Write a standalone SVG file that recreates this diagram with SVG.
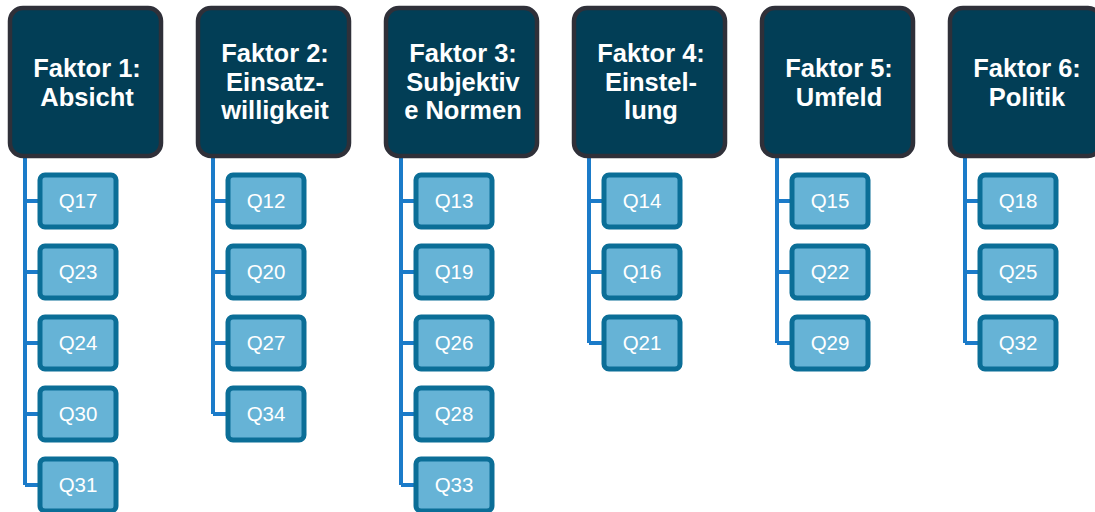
<svg xmlns="http://www.w3.org/2000/svg" width="1095" height="512" viewBox="0 0 1095 512">
<style>
.h{fill:#023e56;stroke:#2f3039;stroke-width:4.5}
.ht{font-family:"Liberation Sans",Arial,sans-serif;font-weight:bold;font-size:25.5px;fill:#ffffff;text-anchor:middle}
.q{fill:#66b3d6;stroke:#0b6e97;stroke-width:5}
.qt{font-family:"Liberation Sans",Arial,sans-serif;font-size:20.5px;fill:#ffffff;text-anchor:middle}
.c{fill:none;stroke:#1b7bc9;stroke-width:4}
</style>
<rect width="1095" height="512" fill="#ffffff"/>
<g id="connectors">
<path class="c" d="M25 158V485M25 201H38M25 272H38M25 343H38M25 414H38M25 485H38"/>
<path class="c" d="M213 158V414M213 201H226M213 272H226M213 343H226M213 414H226"/>
<path class="c" d="M401 158V485M401 201H414M401 272H414M401 343H414M401 414H414M401 485H414"/>
<path class="c" d="M589 158V343M589 201H602M589 272H602M589 343H602"/>
<path class="c" d="M777 158V343M777 201H790M777 272H790M777 343H790"/>
<path class="c" d="M965 158V343M965 201H978M965 272H978M965 343H978"/>
</g>
<g id="f1"><rect class="h" x="10" y="8" width="151" height="148" rx="13"/><text class="ht" x="87" y="77">Faktor 1:</text><text class="ht" x="87" y="106">Absicht</text></g>
<g id="f2"><rect class="h" x="198" y="8" width="151" height="148" rx="13"/><text class="ht" x="275" y="62">Faktor 2:</text><text class="ht" x="275" y="91">Einsatz-</text><text class="ht" x="275" y="119">willigkeit</text></g>
<g id="f3"><rect class="h" x="386" y="8" width="151" height="148" rx="13"/><text class="ht" x="463" y="62">Faktor 3:</text><text class="ht" x="463" y="91">Subjektiv</text><text class="ht" x="463" y="119">e Normen</text></g>
<g id="f4"><rect class="h" x="574" y="8" width="151" height="148" rx="13"/><text class="ht" x="651" y="62">Faktor 4:</text><text class="ht" x="651" y="91">Einstel-</text><text class="ht" x="651" y="119">lung</text></g>
<g id="f5"><rect class="h" x="762" y="8" width="151" height="148" rx="13"/><text class="ht" x="839" y="77">Faktor 5:</text><text class="ht" x="839" y="106">Umfeld</text></g>
<g id="f6"><rect class="h" x="950" y="8" width="151" height="148" rx="13"/><text class="ht" x="1027" y="77">Faktor 6:</text><text class="ht" x="1027" y="106">Politik</text></g>
<g id="q17"><rect class="q" x="40" y="175" width="76" height="52" rx="5"/><text class="qt" x="78" y="208">Q17</text></g>
<g id="q23"><rect class="q" x="40" y="246" width="76" height="52" rx="5"/><text class="qt" x="78" y="279">Q23</text></g>
<g id="q24"><rect class="q" x="40" y="317" width="76" height="52" rx="5"/><text class="qt" x="78" y="350">Q24</text></g>
<g id="q30"><rect class="q" x="40" y="388" width="76" height="52" rx="5"/><text class="qt" x="78" y="421">Q30</text></g>
<g id="q31"><rect class="q" x="40" y="459" width="76" height="52" rx="5"/><text class="qt" x="78" y="492">Q31</text></g>
<g id="q12"><rect class="q" x="228" y="175" width="76" height="52" rx="5"/><text class="qt" x="266" y="208">Q12</text></g>
<g id="q20"><rect class="q" x="228" y="246" width="76" height="52" rx="5"/><text class="qt" x="266" y="279">Q20</text></g>
<g id="q27"><rect class="q" x="228" y="317" width="76" height="52" rx="5"/><text class="qt" x="266" y="350">Q27</text></g>
<g id="q34"><rect class="q" x="228" y="388" width="76" height="52" rx="5"/><text class="qt" x="266" y="421">Q34</text></g>
<g id="q13"><rect class="q" x="416" y="175" width="76" height="52" rx="5"/><text class="qt" x="454" y="208">Q13</text></g>
<g id="q19"><rect class="q" x="416" y="246" width="76" height="52" rx="5"/><text class="qt" x="454" y="279">Q19</text></g>
<g id="q26"><rect class="q" x="416" y="317" width="76" height="52" rx="5"/><text class="qt" x="454" y="350">Q26</text></g>
<g id="q28"><rect class="q" x="416" y="388" width="76" height="52" rx="5"/><text class="qt" x="454" y="421">Q28</text></g>
<g id="q33"><rect class="q" x="416" y="459" width="76" height="52" rx="5"/><text class="qt" x="454" y="492">Q33</text></g>
<g id="q14"><rect class="q" x="604" y="175" width="76" height="52" rx="5"/><text class="qt" x="642" y="208">Q14</text></g>
<g id="q16"><rect class="q" x="604" y="246" width="76" height="52" rx="5"/><text class="qt" x="642" y="279">Q16</text></g>
<g id="q21"><rect class="q" x="604" y="317" width="76" height="52" rx="5"/><text class="qt" x="642" y="350">Q21</text></g>
<g id="q15"><rect class="q" x="792" y="175" width="76" height="52" rx="5"/><text class="qt" x="830" y="208">Q15</text></g>
<g id="q22"><rect class="q" x="792" y="246" width="76" height="52" rx="5"/><text class="qt" x="830" y="279">Q22</text></g>
<g id="q29"><rect class="q" x="792" y="317" width="76" height="52" rx="5"/><text class="qt" x="830" y="350">Q29</text></g>
<g id="q18"><rect class="q" x="980" y="175" width="76" height="52" rx="5"/><text class="qt" x="1018" y="208">Q18</text></g>
<g id="q25"><rect class="q" x="980" y="246" width="76" height="52" rx="5"/><text class="qt" x="1018" y="279">Q25</text></g>
<g id="q32"><rect class="q" x="980" y="317" width="76" height="52" rx="5"/><text class="qt" x="1018" y="350">Q32</text></g>
</svg>
